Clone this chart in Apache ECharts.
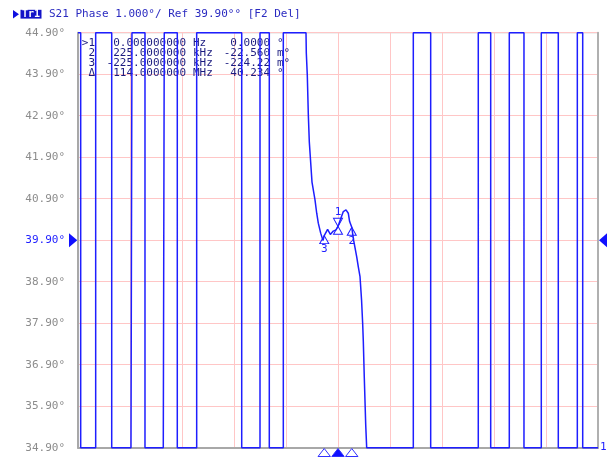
<!DOCTYPE html>
<html>
<head>
<meta charset="utf-8">
<script src="https://cdn.jsdelivr.net/npm/echarts@6/dist/echarts.min.js"></script>
<style>
  html, body { margin: 0; padding: 0; background: #fff; }
  #chart { width: 607px; height: 457px; }
</style>
</head>
<body>
<div id="chart"></div>
<script>
// reference level (deg) and scale, from the trace title
const REF_LEVEL = 39.90;

// trace: offset from center frequency (kHz) and phase (deg), clipped at screen edges
const traceFreqKHz = [
  -4250, -4206, -4206, -3961, -3961, -3699, -3699, -3384, -3368, -3155, -3155,
  -2856, -2840, -2627, -2627, -2310, -2310, -1574, -1574, -1275, -1275, -1123, -1123,
  -894, -894, -523, -518, -502, -485, -469, -446, -425, -376, -348, -322, -283,
  -245, -225, -170, -125, -77, -33, 0, 87, 131, 168, 190, 225, 255, 306, 332, 360,
  385, 403, 414, 430, 453, 469, 1231, 1231, 1515, 1515, 2293, 2293, 2496, 2496,
  2800, 2800, 3040, 3040, 3323, 3323, 3601, 3601, 3912, 3912, 4000, 4000, 4250
];
const tracePhaseDeg = [
  44.90, 44.90, 34.90, 34.90, 44.90, 44.90, 34.90, 34.90, 44.90, 44.90, 34.90,
  34.90, 44.90, 44.90, 34.90, 34.90, 44.90, 44.90, 34.90, 34.90, 44.90, 44.90, 34.90,
  34.90, 44.90, 44.90, 44.41, 43.88, 42.92, 42.27, 41.76, 41.30, 40.87, 40.55, 40.31, 40.07,
  39.89, 40.01, 40.16, 40.04, 40.12, 40.15, 40.234, 40.59, 40.63, 40.55, 40.35, 40.211, 39.90, 39.50, 39.26, 39.02,
  38.46, 37.90, 37.45, 36.58, 35.45, 34.90, 34.90, 44.90, 44.90, 34.90, 34.90, 44.90, 44.90, 34.90,
  34.90, 44.90, 44.90, 34.90, 34.90, 44.90, 44.90, 34.90, 34.90, 44.90, 44.90, 34.90, 34.90
];

// markers on the trace
const markerNames = ['1', '2', '3'];
const markerFreqKHz = [0, 225, -225];
const markerPhaseDeg = [40.234, 40.2114, 40.0098];

// marker readout table
const tableLabels = ['>1', '2', '3', '\u0394'];
const tableFreqs = ['0.000000000', '225.0000000', '-225.0000000', '114.0000000'];
const tableFreqUnits = ['Hz', 'kHz', 'kHz', 'MHz'];
const tableValues = ['0.0000', '-22.560', '-224.22', '40.234'];
const tableValueUnits = ['\u00b0', 'm\u00b0', 'm\u00b0', '\u00b0'];

const titleText = 'S21 Phase 1.000\u00b0/ Ref 39.90\u00b0\u00b0 [F2 Del]';

const MONO = '"DejaVu Sans Mono", "Liberation Mono", monospace';
const BLUE = '#1e1eff';
const GREY = '#8c8c8c';

const myChart = echarts.init(document.getElementById('chart'));

const traceData = traceFreqKHz.map((f, i) => [f, +(tracePhaseDeg[i] - REF_LEVEL).toFixed(4)]);

const upTri = 'path://M5,0 L10,8 L0,8 Z';
const downTri = 'path://M0,0 L10,0 L5,8 Z';

const markPoints = [];
markerNames.forEach((name, i) => {
  const coord = [markerFreqKHz[i], +(markerPhaseDeg[i] - REF_LEVEL).toFixed(4)];
  if (i === 0) {
    markPoints.push({
      name: name, coord: coord, symbol: downTri, symbolSize: [9, 8], symbolOffset: [0, -4],
      label: { show: true, position: 'top', distance: 0, formatter: name }
    });
    markPoints.push({
      name: name, coord: coord, symbol: upTri, symbolSize: [9, 8], symbolOffset: [0, 4],
      label: { show: false }
    });
  } else {
    markPoints.push({
      name: name, coord: coord, symbol: upTri, symbolSize: [9, 8], symbolOffset: [0, 4],
      label: { show: true, position: 'bottom', distance: 0, formatter: name }
    });
  }
});

const option = {
  backgroundColor: '#fff',
  animation: false,
  grid: {
    left: 78, top: 32.7, width: 520, height: 415,
    show: true, borderColor: '#a8a8a8', borderWidth: 1
  },
  xAxis: {
    type: 'value',
    min: -4250, max: 4250, interval: 850,
    axisLine: { show: true, onZero: false, lineStyle: { color: '#a8a8a8', width: 2 } },
    axisTick: { show: false },
    axisLabel: { show: false },
    splitLine: { show: true, lineStyle: { color: '#ffc6c6', width: 1 } }
  },
  yAxis: [
    {
      type: 'value',
      min: -5, max: 5, interval: 1,
      axisLine: { show: true, onZero: false, lineStyle: { color: '#a8a8a8', width: 2 } },
      axisTick: { show: false },
      axisLabel: {
        margin: 13,
        fontFamily: MONO,
        fontSize: 11,
        formatter: v => (v + REF_LEVEL).toFixed(2) + '\u00b0',
        color: v => (Math.abs(v) < 1e-6 ? BLUE : GREY)
      },
      splitLine: { show: true, lineStyle: { color: '#ffc6c6', width: 1 } }
    },
    {
      type: 'value', position: 'right',
      min: -5, max: 5, interval: 1,
      axisLine: { show: true, onZero: false, lineStyle: { color: '#b0b0b0', width: 2 } },
      axisTick: { show: false }, axisLabel: { show: false }, splitLine: { show: false }
    }
  ],
  series: [
    {
      name: 'S21 Phase',
      type: 'line',
      data: traceData,
      showSymbol: false,
      clip: false,
      z: 5,
      lineStyle: { color: BLUE, width: 1.5 },
      markPoint: {
        data: markPoints,
        itemStyle: { color: '#fff', borderColor: BLUE, borderWidth: 1 },
        label: { color: BLUE, fontFamily: MONO, fontSize: 11 }
      }
    }
  ]
};

myChart.setOption(option);

// overlay texts and reference / marker indicators
const graphics = [];

// trace title
graphics.push({ type: 'polygon', shape: { points: [[13, 10], [19, 14.2], [13, 18.4]] }, style: { fill: '#1010e0' } });
graphics.push({ type: 'rect', shape: { x: 20.5, y: 9.8, width: 21, height: 8.8 }, style: { fill: '#1414c8' } });
graphics.push({ type: 'text', x: 31, y: 14.5, style: {
  text: 'Tr1', fill: '#fff', font: 'bold 10px ' + MONO, textAlign: 'center', textVerticalAlign: 'middle' } });
graphics.push({ type: 'text', x: 49, y: 14.5, style: {
  text: titleText, fill: '#2a2ac0', font: '11px ' + MONO, textVerticalAlign: 'middle' } });

// marker table
tableLabels.forEach((lab, i) => {
  const y = 43 + i * 10.2;
  const st = { fill: '#1c1c80', font: '11px ' + MONO, textVerticalAlign: 'middle' };
  graphics.push({ type: 'text', x: 95, y: y, style: Object.assign({ text: lab, textAlign: 'right' }, st) });
  graphics.push({ type: 'text', x: 186, y: y, style: Object.assign({ text: tableFreqs[i], textAlign: 'right' }, st) });
  graphics.push({ type: 'text', x: 193, y: y, style: Object.assign({ text: tableFreqUnits[i], textAlign: 'left' }, st) });
  graphics.push({ type: 'text', x: 270, y: y, style: Object.assign({ text: tableValues[i], textAlign: 'right' }, st) });
  graphics.push({ type: 'text', x: 277, y: y, style: Object.assign({ text: tableValueUnits[i], textAlign: 'left' }, st) });
});

// reference level arrows
const refY = myChart.convertToPixel({ yAxisIndex: 0 }, 0);
graphics.push({ type: 'polygon', shape: { points: [[69, refY - 7], [77.3, refY], [69, refY + 7]] }, style: { fill: '#1010ff' } });
graphics.push({ type: 'polygon', shape: { points: [[607, refY - 7], [599, refY], [607, refY + 7]] }, style: { fill: '#1010ff' } });

// marker position indicators under the x axis
markerFreqKHz.forEach((f, i) => {
  const px = myChart.convertToPixel({ xAxisIndex: 0 }, f);
  const active = i === 0;
  graphics.push({
    type: 'polygon',
    z: active ? 11 : 10,
    shape: { points: [[px, 448.5], [px + 6.2, 456.5], [px - 6.2, 456.5]] },
    style: { fill: active ? '#1010ff' : '#fff', stroke: '#3030ff', lineWidth: 1 }
  });
});

// channel number at bottom right
graphics.push({ type: 'text', x: 600, y: 447, style: {
  text: '1', fill: BLUE, font: '11px ' + MONO, textVerticalAlign: 'middle' } });

myChart.setOption({ graphic: graphics });

window.addEventListener('resize', () => myChart.resize());
</script>
</body>
</html>
